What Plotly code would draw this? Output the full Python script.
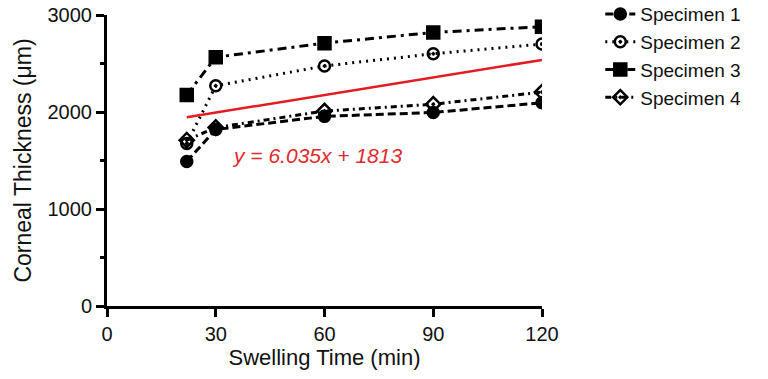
import plotly.graph_objects as go

time_min = [22, 30, 60, 90, 120]
specimen_names = ["Specimen 1", "Specimen 2", "Specimen 3", "Specimen 4"]
spec1 = [1490, 1820, 1955, 1995, 2095]
spec2 = [1675, 2270, 2475, 2600, 2700]
spec3 = [2175, 2565, 2710, 2820, 2880]
spec4 = [1710, 1840, 2010, 2080, 2205]
fit_slope = 6.035
fit_intercept = 1813
fit_x = [22, 120]
fit_y = [fit_slope * x + fit_intercept for x in fit_x]
x_ticks = [0, 30, 60, 90, 120]
y_ticks = [0, 1000, 2000, 3000]

FONT = "Liberation Sans, Arial, sans-serif"

fig = go.Figure()
symbols = ["circle", "circle-open-dot", "square", "diamond-open-dot"]
marker_sizes = [11, 11, 12, 11]
dash_patterns = ["8px,4px", "2px,5px", "9px,5px,3px,5px", "6px,4px,2px,4px"]
series = [spec1, spec2, spec3, spec4]
for name, vals, sym, ms, dp in zip(specimen_names, series, symbols, marker_sizes, dash_patterns):
    fig.add_trace(go.Scatter(
        x=time_min, y=vals, name=name, mode="lines+markers",
        line=dict(color="black", width=3, dash=dp),
        marker=dict(symbol=sym, size=ms, color="black",
                    line=dict(color="black", width=2.5)),
    ))

fig.add_trace(go.Scatter(
    x=fit_x, y=fit_y, mode="lines", showlegend=False,
    line=dict(color="#e31b23", width=2.5),
))

fig.add_annotation(
    x=58, y=1555, xref="x", yref="y", showarrow=False,
    text="<i>y = %.3fx + %d</i>" % (fit_slope, fit_intercept),
    font=dict(family=FONT, size=21, color="#e02a30"),
)

fig.update_layout(
    width=768, height=379,
    margin=dict(l=107, r=226, t=15, b=73, autoexpand=False),
    plot_bgcolor="white", paper_bgcolor="white",
    font=dict(family=FONT, size=20, color="#111111"),
    legend=dict(x=1.134, y=1.068, xanchor="left", yanchor="top",
                font=dict(size=19), itemwidth=30, tracegroupgap=0,
                bgcolor="rgba(0,0,0,0)"),
)
fig.update_xaxes(
    range=[0, 120], tickvals=x_ticks, showgrid=False, zeroline=False,
    showline=True, linecolor="black", linewidth=3,
    ticks="outside", ticklen=8, tickwidth=3, tickcolor="black",
    title=dict(text="Swelling Time (min)", font=dict(size=22), standoff=5),
    tickfont=dict(size=20),
)
fig.update_yaxes(
    range=[0, 3000], tickvals=y_ticks, showgrid=False, zeroline=False,
    showline=True, linecolor="black", linewidth=3,
    ticks="outside", ticklen=8, tickwidth=3, tickcolor="black",
    minor=dict(tickvals=[500, 1500, 2500], ticks="outside", ticklen=4,
               tickwidth=3, tickcolor="black", showgrid=False),
    title=dict(text="Corneal Thickness (μm)", font=dict(size=23), standoff=10),
    tickfont=dict(size=20),
)

fig.write_html("out.html")
